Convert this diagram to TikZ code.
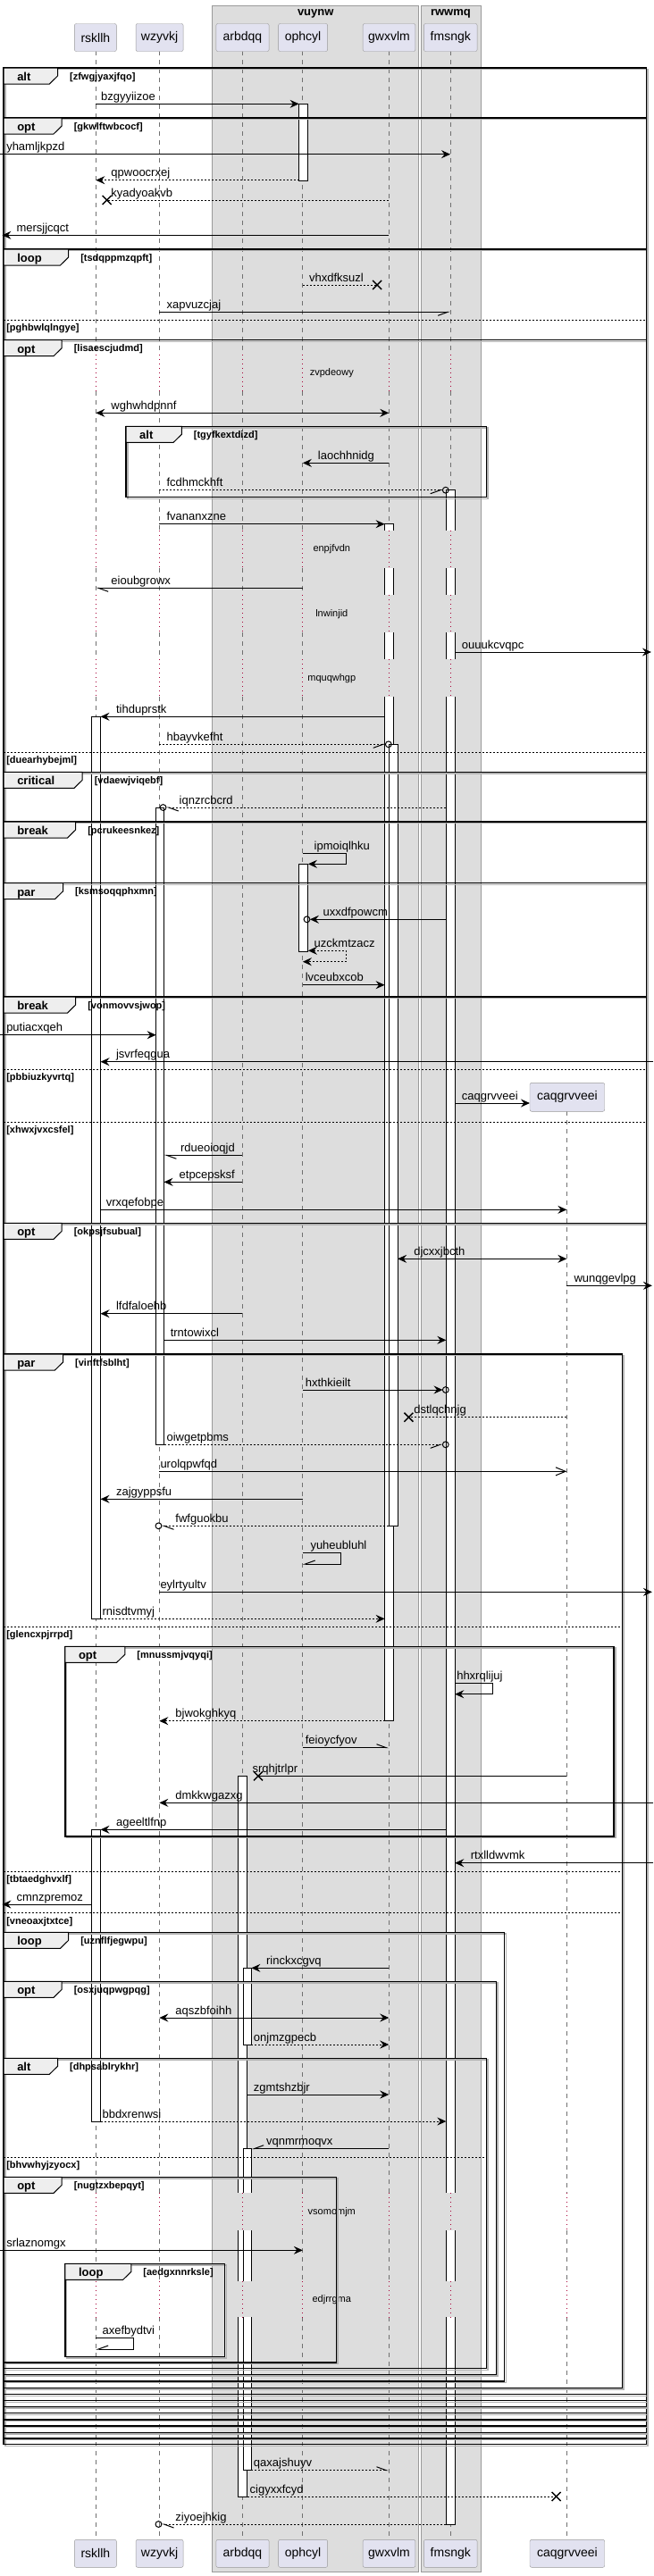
\documentclass[tikz,border=0pt]{standalone}
\usepackage{fontspec}
\setmainfont{Liberation Sans}
\usetikzlibrary{arrows.meta}

\definecolor{partfill}{HTML}{E2E2F0}
\definecolor{partline}{HTML}{989898}
\definecolor{boxbg}{HTML}{DDDDDD}
\definecolor{boxline}{HTML}{9A9A9A}
\definecolor{tabfill}{HTML}{EEEEEE}
\definecolor{lifecol}{HTML}{707070}
\definecolor{delaycol}{HTML}{A80036}

% group frame: x0, y0, x1, y1, kind, tab right edge, condition
\newcommand{\grp}[7]{%
  \draw[grpshadow] (#1+1.2,#2+1.7) rectangle (#3+1.2,#4+1.7);
  \draw[grpframe] (#1,#2) rectangle (#3,#4);
  \draw[grptab] (#1,#2) -- (#6,#2) -- (#6,#2+9) -- (#6-6.5,#2+18) -- (#1,#2+18) -- cycle;
  \node[tabtxt] (k-#7) at (#1+10.5,#2+14.5) {#5};
  \node[condtxt] (c-#7) at (#6+9.5,#2+13) {[#7]};
}
% else separator: x0, x1, y, condition
\newcommand{\els}[4]{%
  \draw[elseline] (#1,#3) -- (#2,#3);
  \node[condtxt] (c-#4) at (#1+2,#3+12.5) {[#4]};
}
% message: style, from x, to x, y, label, label x
\newcommand{\msg}[6]{%
  \coordinate (#5-a) at (#2,#4);
  \coordinate (#5-b) at (#3,#4);
  \draw[#1] (#5-a) -- (#5-b);
  \node[msgtxt] (t-#5) at (#6,#4-4) {#5};
}
% self message: style, start x, end x, turn x, y1, y2, label, label x
\newcommand{\selfmsg}[8]{%
  \coordinate (#7-a) at (#2,#5);
  \coordinate (#7-b) at (#3,#6);
  \draw[#1] (#7-a) -- (#4,#5) -- (#4,#6) -- (#7-b);
  \node[msgtxt] (t-#7) at (#8,#5-4) {#7};
}
\newcommand{\msgring}[2]{\draw[ringmark] (#1,#2) circle (3.4pt);}
\newcommand{\msgcross}[2]{\draw[crossmark] (#1,#2) ++(-5pt,-5pt) -- ++(10pt,10pt) (#1,#2) ++(-5pt,5pt) -- ++(10pt,-10pt);}

\begin{document}
\begin{tikzpicture}[
    x=1.4118pt, y=-1pt,
    grpbox/.style={fill=boxbg, draw=boxline, line width=0.8pt},
    boxtitle/.style={font=\bfseries\fontsize{13}{15}\selectfont, inner sep=0pt},
    part/.style={draw=partline, fill=partfill, rounded corners=2pt, minimum height=31pt, inner sep=0pt, font=\fontsize{14}{16}\selectfont},
    lifeline/.style={lifecol, line width=0.8pt, dash pattern=on 5pt off 5pt},
    delayline/.style={delaycol, line width=1pt, dash pattern=on 1pt off 4pt},
    delaytxt/.style={font=\fontsize{11}{13}\selectfont, inner sep=0pt},
    actbox/.style={fill=white, draw=black, line width=1pt},
    grpframe/.style={line width=1.5pt},
    grpshadow/.style={line width=1.5pt, black!30},
    grptab/.style={fill=tabfill, draw=black, line width=1pt},
    tabtxt/.style={anchor=base west, inner sep=0pt, font=\bfseries\fontsize{13}{15}\selectfont},
    condtxt/.style={anchor=base west, inner sep=0pt, font=\bfseries\fontsize{11}{13}\selectfont},
    elseline/.style={line width=1pt, dash pattern=on 2pt off 2pt},
    msgline/.style={line width=1pt},
    retline/.style={line width=1pt, dash pattern=on 2pt off 2pt},
    msgtxt/.style={anchor=base west, inner sep=0pt, font=\fontsize{13}{15}\selectfont},
    tipF/.style={-{Stealth[length=10pt,width=9pt,inset=3.5pt]}},
    tipFF/.style={{Stealth[length=10pt,width=9pt,inset=3.5pt]}-{Stealth[length=10pt,width=9pt,inset=3.5pt]}},
    tipH/.style={-{Straight Barb[harpoon,length=11pt,width=8pt]}},
    tipHs/.style={-{Straight Barb[harpoon,swap,length=11pt,width=8pt]}},
    tipO/.style={-{Straight Barb[length=11pt,width=9pt]}},
    ringmark/.style={line width=1pt},
    crossmark/.style={line width=1.5pt}
]
\useasboundingbox (0,0) rectangle (517.8,2884);

% =========================
% BOXES
% =========================
\draw[grpbox] (168.3,6) rectangle (332,2879.3);
\draw[grpbox] (333.7,6) rectangle (381,2879.3);
\node[boxtitle] (title-vuynw) at (250.2,15) {vuynw};
\node[boxtitle] (title-rwwmq) at (357.3,15) {rwwmq};

% =========================
% LIFELINES
% =========================
\foreach \x in {76,126.3,192,240,308.3,357}
    \foreach \ya/\yb in {57.3/396.7, 438/594.3, 635.7/666, 708.3/738.3, 780/2455, 2497.3/2554, 2594.3/2843.3}
        \draw[lifeline] (\x,\ya) -- (\x,\yb);
\foreach \ya/\yb in {1244.3/2455, 2497.3/2554, 2594.3/2843.3}
    \draw[lifeline] (449.5,\ya) -- (449.5,\yb);

% =========================
% ACTIVATIONS
% =========================
\foreach \xa/\xb/\ya/\yb in {237/244.3/116.3/202, 353.7/360.7/548.7/2826, 305/311.7/586.7/1926.7,
        72.7/79.7/802.3/1812.3, 308.3/315.3/833.3/1708.3, 123.7/130/904/1617.3,
        237/244.3/967.3/1065.3, 189/196/1988.3/2795, 72.7/79.7/2048.3/2375,
        192.7/199.3/2203.3/2289, 192.7/199.3/2405.7/2765.7}
    \draw[actbox] (\xa,\ya) rectangle (\xb,\yb);

% =========================
% DELAYS
% =========================
\foreach \ya/\yb in {594.3/635.7, 666/708.3, 738.3/780} {
    \fill[boxbg] (304,\ya) rectangle (312.7,\yb);
    \fill[boxbg] (352.7,\ya) rectangle (361.7,\yb);
}
\foreach \ya/\yb in {2455/2497.3, 2554/2594.3} {
    \fill[boxbg] (188,\ya) rectangle (200.3,\yb);
    \fill[boxbg] (352.7,\ya) rectangle (361.7,\yb);
    \draw[delayline] (449.5,\ya) -- (449.5,\yb);
}
\foreach \ya/\yb/\txt in {396.7/438/zvpdeowy, 594.3/635.7/enpjfvdn, 666/708.3/lnwinjid,
        738.3/780/mquqwhgp, 2455/2497.3/vsomomjm, 2554/2594.3/edjrrgma} {
    \foreach \x in {76,126.3,192,240,308.3,357}
        \draw[delayline] (\x,\ya) -- (\x,\yb);
    \node[delaytxt] (d-\txt) at (263,{(\ya+\yb)/2}) {\txt};
}

% =========================
% GROUPS
% =========================
\grp{3}{76}{512.3}{2736.7}{alt}{45.7}{zfwgjyaxjfqo}
\grp{3}{132}{512.3}{2730}{opt}{49}{gkwlftwbcocf}
\grp{3}{279}{512.3}{2723.3}{loop}{54.3}{tsdqppmzqpft}
\els{3}{512.3}{358.3}{pghbwlqlngye}
\grp{3}{380.7}{512.3}{2716}{opt}{49}{lisaescjudmd}
\grp{100}{477.3}{385.7}{556.7}{alt}{144}{tgyfkextdizd}
\els{3}{512.3}{842.3}{duearhybejml}
\grp{3}{864.3}{512.3}{2709}{critical}{65.3}{vdaewjviqebf}
\grp{3}{920}{512.3}{2701.7}{break}{60}{pcrukeesnkez}
\grp{3}{988.7}{512.3}{2694.3}{par}{50}{ksmsoqqphxmn}
\grp{3}{1116}{512.3}{2687.7}{break}{60}{vonmovvsjwop}
\els{3}{512.3}{1197.3}{pbbiuzkyvrtq}
\els{3}{512.3}{1256}{xhwxjvxcsfel}
\grp{3}{1369.3}{512.3}{2680.7}{opt}{49}{okpsjfsubual}
\grp{3}{1516}{493.3}{2673.3}{par}{50}{vinftfsblht}
\els{3}{493.3}{1821.3}{glencxpjrrpd}
\grp{51.7}{1843.3}{486.7}{2056}{opt}{99}{mnussmjvqyqi}
\els{3}{493.3}{2095}{tbtaedghvxlf}
\els{3}{493.3}{2141.7}{vneoaxjtxtce}
\grp{3}{2163.3}{400}{2666}{loop}{54.3}{uznflfjegwpu}
\grp{3}{2218.3}{393.3}{2658.3}{opt}{49}{osxjuqpwgpqg}
\grp{3}{2304.3}{385.7}{2651.7}{alt}{45.7}{dhpsablrykhr}
\els{3}{385.7}{2415}{bhvwhyjzyocx}
\grp{3}{2437.3}{266.7}{2645}{opt}{49}{nugtzxbepqyt}
\grp{51.7}{2534.3}{178.3}{2638.3}{loop}{104}{aedgxnnrksle}

% =========================
% MESSAGES
% =========================
\msg{msgline,tipF}{76}{237}{116.3}{bzgyyiizoe}{80}
\msg{msgline,tipF}{0}{357}{172.7}{yhamljkpzd}{5}
\msg{retline,tipF}{237}{76}{201.7}{qpwoocrxej}{88}
\msg{retline}{308.3}{84.7}{224}{kyadyoakvb}{88}
\msgcross{84.7}{224}
\msg{msgline,tipF}{308.3}{1.7}{263.3}{mersjjcqct}{13}
\msg{retline}{240}{299}{319}{vhxdfksuzl}{245}
\msgcross{299}{319}
\msg{msgline,tipHs}{126.3}{357}{349.3}{xapvuzcjaj}{132}
\msg{msgline,tipFF}{76}{308.3}{462.3}{wghwhdpnnf}{88}
\msg{msgline,tipF}{308.3}{240}{518.3}{laochhnidg}{252}
\msg{retline,tipHs}{126.3}{351}{548.7}{fcdhmckhft}{132}
\msgring{353.3}{548.7}
\msg{msgline,tipF}{126.3}{305}{586.7}{fvananxzne}{132}
\msg{msgline,tipH}{240}{76}{658.3}{eioubgrowx}{88}
\msg{msgline,tipF}{360.7}{516.3}{730}{ouuukcvqpc}{366}
\msg{msgline,tipF}{305}{79.7}{802.3}{tihduprstk}{92}
\msg{retline,tipHs}{126.3}{305.7}{833.3}{hbayvkefht}{132}
\msgring{308}{833.3}
\msg{retline,tipH}{353.7}{131.7}{904}{iqnzrcbcrd}{142}
\msgring{129.3}{904}
\selfmsg{msgline,tipF}{240}{244.3}{274.3}{955.3}{967.3}{ipmoiqlhku}{249}
\msg{msgline,tipF}{353.7}{245.7}{1029.3}{uxxdfpowcm}{256}
\msgring{243.3}{1029.3}
\selfmsg{retline,tipFF}{244.3}{240}{274.3}{1064.3}{1076.7}{uzckmtzacz}{249}
\msg{msgline,tipF}{240}{305}{1102.7}{lvceubxcob}{242}
\msg{msgline,tipF}{0}{123.7}{1158.7}{putiacxqeh}{5}
\msg{msgline,tipF}{518}{79.7}{1188.7}{jsvrfeqgua}{92}
\msg{msgline,tipF}{360.7}{420}{1235}{caqgrvveei}{366}
\msg{msgline,tipH}{192}{130}{1293.3}{rdueoioqjd}{143}
\msg{msgline,tipF}{192}{130}{1323.3}{etpcepsksf}{142}
\msg{msgline,tipF}{79.7}{449.3}{1354.3}{vrxqefobpe}{84}
\msg{msgline,tipFF}{315.3}{449.3}{1409.3}{djcxxjbcth}{328}
\msg{msgline,tipF}{449.3}{517}{1439.3}{wunqgevlpg}{455}
\msg{msgline,tipF}{192}{79.7}{1470.7}{lfdfaloehb}{92}
\msg{msgline,tipF}{130}{353.7}{1500.3}{trntowixcl}{135}
\msg{msgline,tipF}{240}{351}{1556}{hxthkieilt}{242}
\msgring{353.3}{1556}
\msg{retline}{449.3}{324}{1586.7}{dstlqchnjg}{328}
\msgcross{324}{1586.7}
\msg{retline,tipHs}{130}{351}{1617.3}{oiwgetpbms}{132}
\msgring{353.3}{1617.3}
\msg{msgline,tipO}{126.3}{449.3}{1647.3}{urolqpwfqd}{127}
\msg{msgline,tipF}{240}{79.7}{1678.3}{zajgyppsfu}{92}
\msg{retline,tipH}{308.3}{128}{1708.3}{fwfguokbu}{139}
\msgring{125.7}{1708.3}
\selfmsg{msgline,tipHs}{240}{240}{270.3}{1738.3}{1751}{yuheubluhl}{246}
\msg{msgline,tipF}{126.3}{517}{1782.3}{eylrtyultv}{127}
\msg{retline,tipF}{79.7}{305}{1812.3}{rnisdtvmyj}{81}
\selfmsg{msgline,tipF}{360.7}{360.7}{390.7}{1884.3}{1896.7}{hhxrqlijuj}{362}
\msg{retline,tipF}{305}{126.3}{1926.7}{bjwokghkyq}{139}
\msg{msgline,tipH}{240}{308.3}{1956.7}{feioycfyov}{242}
\msg{msgline}{449.3}{204.7}{1988.3}{srqhjtrlpr}{200}
\msgcross{204.7}{1988.3}
\msg{msgline,tipF}{518}{126.3}{2018.3}{dmkkwgazxg}{139}
\msg{msgline,tipF}{353.7}{79.7}{2048.3}{ageeltlfnp}{92}
\msg{msgline,tipF}{518}{360.7}{2085.7}{rtxlldwvmk}{373}
\msg{msgline,tipF}{72.7}{1.7}{2132}{cmnzpremoz}{13}
\msg{msgline,tipF}{308.3}{199.3}{2203.3}{rinckxcgvq}{211}
\msg{msgline,tipFF}{126.3}{308.3}{2259}{aqszbfoihh}{139}
\msg{retline,tipF}{199.3}{308.3}{2289}{onjmzgpecb}{201}
\msg{msgline,tipF}{196}{308.3}{2345}{zgmtshzbjr}{201}
\msg{retline,tipF}{79.7}{353.7}{2375}{bbdxrenwsi}{81}
\msg{msgline,tipHs}{308.3}{199.3}{2405.7}{vqnmrmoqvx}{211}
\msg{msgline,tipF}{0}{240}{2519.3}{srlaznomgx}{5}
\selfmsg{msgline,tipHs}{76}{76}{106}{2617.3}{2630}{axefbydtvi}{81}
\msg{retline,tipH}{199.3}{308.3}{2765.7}{qaxajshuyv}{201}
\msg{retline}{196}{441}{2795}{cigyxxfcyd}{198}
\msgcross{441}{2795}
\msg{retline,tipH}{353.7}{128}{2826}{ziyoejhkig}{139}
\msgring{125.7}{2826}

% =========================
% PARTICIPANTS
% =========================
\foreach \n/\x/\w in {rskllh/75.7/33.3, wzyvkj/126.5/37.6, arbdqq/192.3/42,
        ophcyl/240.2/39, gwxvlm/308.5/41.6, fmsngk/357.2/42.3} {
    \node[part, minimum width=\w*1.4118] (top-\n) at (\x,42) {\n};
    \node[part, minimum width=\w*1.4118] (bot-\n) at (\x,2858.8) {\n};
}
\node[part, minimum width=83.7, minimum height=32] (top-caqgrvveei) at (449.7,1228.3) {caqgrvveei};
\node[part, minimum width=83.7] (bot-caqgrvveei) at (449.7,2858.8) {caqgrvveei};
\end{tikzpicture}
\end{document}
